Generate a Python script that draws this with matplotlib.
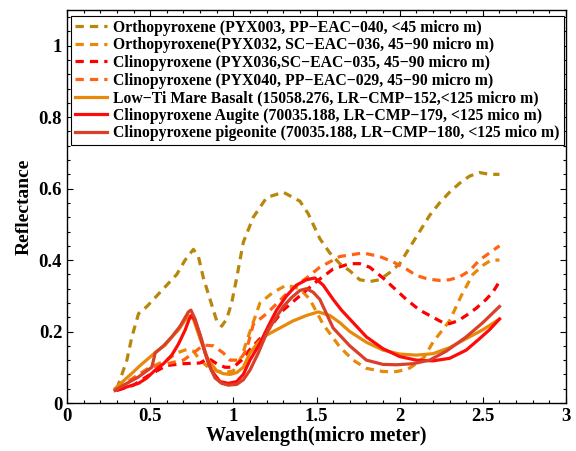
import matplotlib
matplotlib.use("Agg")
import matplotlib.pyplot as plt
from matplotlib.ticker import MultipleLocator, FuncFormatter

# ---------------- data ----------------
x_pyx003 = [0.30,0.33,0.36,0.39,0.43,0.48,0.54,0.60,0.66,0.71,0.76,0.79,0.82,0.86,0.90,0.93,0.96,0.99,1.02,1.06,1.12,1.20,1.30,1.40,1.45,1.52,1.58,1.64,1.70,1.76,1.82,1.88,1.94,2.00,2.06,2.12,2.18,2.24,2.30,2.36,2.42,2.48,2.54,2.60]
y_pyx003 = [0.04,0.08,0.12,0.185,0.25,0.27,0.30,0.33,0.36,0.40,0.43,0.41,0.35,0.29,0.23,0.215,0.235,0.28,0.35,0.45,0.52,0.575,0.59,0.565,0.53,0.46,0.42,0.39,0.37,0.345,0.34,0.345,0.365,0.39,0.435,0.48,0.525,0.56,0.59,0.615,0.635,0.645,0.64,0.64]

x_pyx032 = [0.30,0.40,0.50,0.60,0.66,0.72,0.76,0.80,0.85,0.90,0.95,1.00,1.05,1.10,1.16,1.24,1.32,1.40,1.46,1.54,1.64,1.72,1.80,1.90,1.98,2.05,2.10,2.15,2.20,2.25,2.30,2.37,2.44,2.50,2.55,2.60]
y_pyx032 = [0.04,0.07,0.10,0.12,0.14,0.15,0.145,0.12,0.10,0.09,0.085,0.09,0.13,0.20,0.28,0.31,0.33,0.32,0.29,0.22,0.157,0.12,0.097,0.088,0.088,0.095,0.11,0.13,0.17,0.20,0.23,0.30,0.36,0.385,0.40,0.40]

x_pyx036 = [0.30,0.40,0.50,0.60,0.70,0.80,0.85,0.90,0.95,1.00,1.05,1.10,1.20,1.30,1.40,1.50,1.60,1.70,1.76,1.82,1.90,1.97,2.04,2.12,2.20,2.26,2.30,2.35,2.40,2.46,2.52,2.56,2.60]
y_pyx036 = [0.035,0.05,0.08,0.105,0.11,0.112,0.125,0.11,0.10,0.10,0.12,0.15,0.20,0.26,0.30,0.34,0.375,0.39,0.39,0.38,0.35,0.32,0.29,0.26,0.24,0.225,0.222,0.23,0.245,0.265,0.29,0.31,0.34]

x_pyx040 = [0.30,0.40,0.50,0.60,0.70,0.76,0.82,0.88,0.94,0.98,1.04,1.08,1.12,1.20,1.34,1.44,1.52,1.64,1.78,1.88,1.96,2.04,2.10,2.17,2.24,2.30,2.36,2.42,2.48,2.54,2.60]
y_pyx040 = [0.04,0.07,0.10,0.11,0.12,0.14,0.162,0.16,0.14,0.12,0.12,0.15,0.22,0.25,0.315,0.35,0.38,0.41,0.42,0.41,0.395,0.375,0.357,0.347,0.343,0.345,0.353,0.37,0.40,0.42,0.44]

x_basalt = [0.29,0.34,0.39,0.44,0.49,0.54,0.59,0.63,0.67,0.70,0.73,0.76,0.80,0.85,0.90,0.94,0.98,1.02,1.06,1.10,1.15,1.20,1.28,1.36,1.44,1.51,1.58,1.64,1.70,1.80,1.90,2.00,2.10,2.20,2.30,2.40,2.50,2.60]
y_basalt = [0.041,0.062,0.083,0.105,0.125,0.145,0.162,0.185,0.204,0.225,0.245,0.235,0.18,0.12,0.09,0.082,0.08,0.085,0.10,0.14,0.17,0.19,0.21,0.23,0.245,0.255,0.245,0.225,0.20,0.17,0.148,0.137,0.134,0.138,0.155,0.18,0.205,0.235]

x_augite = [0.29,0.36,0.43,0.48,0.53,0.58,0.63,0.67,0.71,0.735,0.75,0.77,0.80,0.83,0.87,0.92,0.97,1.02,1.06,1.10,1.16,1.21,1.26,1.32,1.38,1.44,1.49,1.54,1.60,1.65,1.70,1.80,1.90,2.00,2.10,2.20,2.30,2.40,2.48,2.54,2.60]
y_augite = [0.035,0.045,0.055,0.07,0.092,0.11,0.134,0.165,0.204,0.235,0.246,0.23,0.19,0.14,0.09,0.06,0.055,0.06,0.08,0.12,0.167,0.215,0.26,0.30,0.33,0.345,0.35,0.33,0.29,0.26,0.235,0.185,0.152,0.13,0.12,0.118,0.125,0.148,0.18,0.205,0.235]

x_pigeonite = [0.29,0.36,0.43,0.48,0.51,0.53,0.58,0.63,0.68,0.73,0.745,0.77,0.81,0.85,0.89,0.93,0.97,1.02,1.06,1.10,1.15,1.20,1.25,1.30,1.35,1.40,1.44,1.48,1.52,1.60,1.70,1.80,1.90,1.98,2.08,2.18,2.28,2.40,2.50,2.60]
y_pigeonite = [0.036,0.055,0.073,0.09,0.10,0.14,0.16,0.185,0.215,0.255,0.26,0.235,0.176,0.11,0.07,0.055,0.05,0.052,0.065,0.092,0.14,0.195,0.235,0.27,0.295,0.315,0.32,0.31,0.29,0.21,0.16,0.12,0.108,0.107,0.11,0.12,0.145,0.185,0.225,0.27]

labels = [
    "Orthopyroxene (PYX003, PP\u2212EAC\u2212040, <45 micro m)",
    "Orthopyroxene(PYX032, SC\u2212EAC\u2212036, 45\u221290 micro m)",
    "Clinopyroxene (PYX036,SC\u2212EAC\u2212035, 45\u221290 micro m)",
    "Clinopyroxene (PYX040, PP\u2212EAC\u2212029, 45\u221290 micro m)",
    "Low\u2212Ti Mare Basalt (15058.276, LR\u2212CMP\u2212152,<125 micro m)",
    "Clinopyroxene Augite (70035.188, LR\u2212CMP\u2212179, <125 mico m)",
    "Clinopyroxene pigeonite (70035.188, LR\u2212CMP\u2212180, <125 mico m)",
]
xlabel = "Wavelength(micro meter)"
ylabel = "Reflectance"

# ---------------- style ----------------
plt.rcParams['font.family'] = ['Liberation Serif', 'DejaVu Serif']
plt.rcParams['font.weight'] = 'bold'

fig = plt.figure(figsize=(5.76, 4.51), dpi=100)
ax = fig.add_axes([67/576, 48/451, 499/576, 393/451])

dash = (0, (2.6, 1.9))
series = [
    (x_pyx003, y_pyx003, '#B8860B', dash),
    (x_pyx032, y_pyx032, '#E8890A', dash),
    (x_pyx036, y_pyx036, '#FF0000', dash),
    (x_pyx040, y_pyx040, '#FF6414', dash),
    (x_basalt, y_basalt, '#E8890C', '-'),
    (x_augite, y_augite, '#FF0A0A', '-'),
    (x_pigeonite, y_pigeonite, '#D8402A', '-'),
]
for (xs, ys, c, ls), lab in zip(series, labels):
    ax.plot(xs, ys, color=c, linestyle=ls, linewidth=2.3, label=lab)

ax.set_xlim(0, 3)
ax.set_ylim(0, 1.1)
ax.xaxis.set_major_locator(MultipleLocator(0.5))
ax.xaxis.set_minor_locator(MultipleLocator(0.1))
ax.yaxis.set_major_locator(MultipleLocator(0.2))
ax.yaxis.set_minor_locator(MultipleLocator(0.04))
fmt = FuncFormatter(lambda v, p: ('%g' % round(v, 2)))
ax.xaxis.set_major_formatter(fmt)
ax.yaxis.set_major_formatter(fmt)
ax.tick_params(which='both', direction='in', top=True, right=True, labelsize=13.5, width=0.8)
ax.tick_params(which='major', length=4.5)
ax.tick_params(which='minor', length=2.5)
for lbl in ax.get_xticklabels() + ax.get_yticklabels():
    lbl.set_fontweight('bold')
for s in ax.spines.values():
    s.set_linewidth(1.0)

ax.set_xlabel(xlabel, fontsize=14.5, fontweight='bold', labelpad=1)
ax.set_ylabel(ylabel, fontsize=14, fontweight='bold', labelpad=4)

leg = ax.legend(loc='upper right', bbox_to_anchor=(0.995, 0.985),
                prop={'weight': 'bold', 'size': 11.3},
                handlelength=2.0, handletextpad=0.4, labelspacing=0.1,
                borderpad=0.25, borderaxespad=0.0, fancybox=False, framealpha=1,
                edgecolor='black')
leg.get_frame().set_linewidth(0.8)

fig.savefig('out.png', dpi=100)
